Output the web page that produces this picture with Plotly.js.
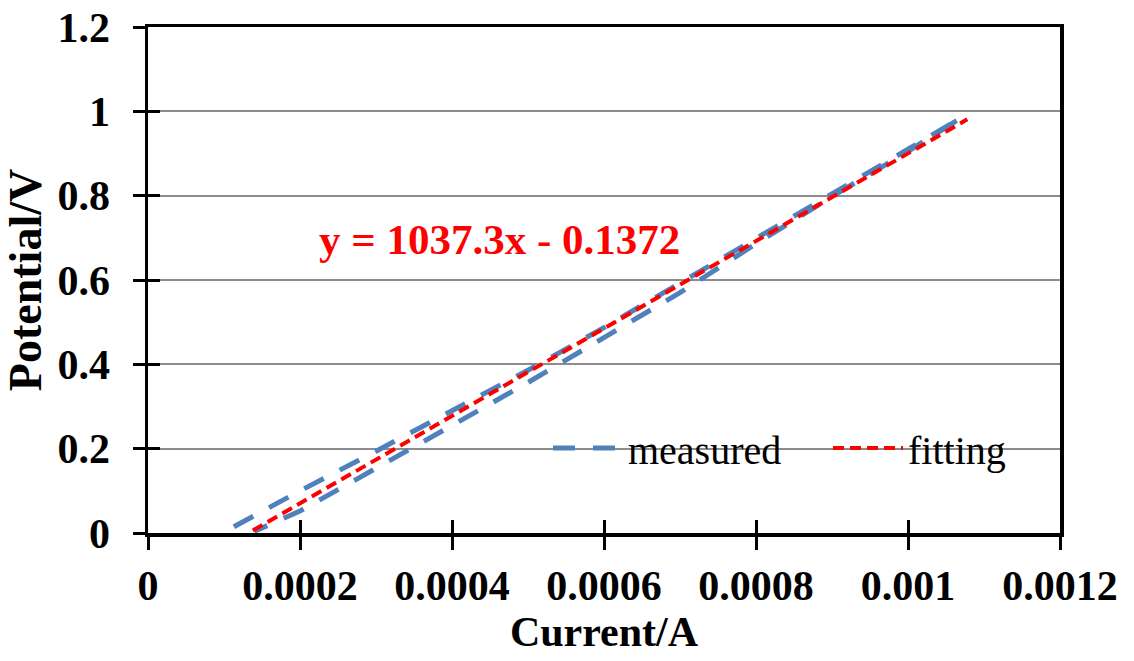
<!DOCTYPE html>
<html>
<head>
<meta charset="utf-8">
<script src="https://cdn.plot.ly/plotly-3.0.1.min.js"></script>
<style>html,body{margin:0;padding:0;background:#fff;}#chart{width:1134px;height:661px;}</style>
</head>
<body>
<div id="chart"></div>
<script>
// Measured loop: up along one branch, back down along the other
var measuredX = [0.000113, 0.0002, 0.0003, 0.0004, 0.0005, 0.0006, 0.0007, 0.0008, 0.0009, 0.001, 0.00107,
                 0.001, 0.0009, 0.0008, 0.0007, 0.0006, 0.0005, 0.0004, 0.0003, 0.0002, 0.00014];
var measuredY = [0.015, 0.100, 0.194, 0.290, 0.386, 0.487, 0.592, 0.698, 0.804, 0.910, 0.985,
                 0.905, 0.798, 0.686, 0.570, 0.462, 0.357, 0.255, 0.153, 0.052, 0.004];
var fitX = [0.000138, 0.001078];
var fitY = [0.006, 0.981];
var xTicks = [0, 0.0002, 0.0004, 0.0006, 0.0008, 0.001, 0.0012];
var xTickText = ['0', '0.0002', '0.0004', '0.0006', '0.0008', '0.001', '0.0012'];
var yTicks = [0, 0.2, 0.4, 0.6, 0.8, 1, 1.2];
var yTickText = ['0', '0.2', '0.4', '0.6', '0.8', '1', '1.2'];
var equationText = 'y = 1037.3x - 0.1372';

var serif = 'Liberation Serif, Times New Roman, serif';

var traces = [
  {x: measuredX, y: measuredY, type: 'scatter', mode: 'lines', name: 'measured', legend: 'legend',
   line: {color: '#4F81BD', width: 5, dash: '22px,18px'}},
  {x: fitX, y: fitY, type: 'scatter', mode: 'lines', name: 'fitting', legend: 'legend2',
   line: {color: '#FF0000', width: 4, dash: '11px,6px'}}
];

var legendFont = {family: serif, size: 40, color: '#000'};

var layout = {
  width: 1134, height: 661,
  margin: {l: 148, r: 74, t: 27, b: 128},
  paper_bgcolor: '#fff', plot_bgcolor: '#fff',
  font: {family: serif, color: '#000'},
  showlegend: true,
  legend: {orientation: 'h', x: 0.4386, y: 0.168, xanchor: 'left', yanchor: 'middle',
           bgcolor: 'rgba(0,0,0,0)', font: legendFont, itemwidth: 70},
  legend2: {orientation: 'h', x: 0.7456, y: 0.168, xanchor: 'left', yanchor: 'middle',
           bgcolor: 'rgba(0,0,0,0)', font: legendFont, itemwidth: 70},
  xaxis: {range: [0, 0.0012], tickvals: xTicks, ticktext: xTickText,
          showline: true, linecolor: '#000', linewidth: 3.5, mirror: true,
          ticks: 'outside', ticklen: 13, tickwidth: 3, tickcolor: '#000',
          showgrid: false, zeroline: false,
          tickfont: {family: serif, size: 42, weight: 'bold', color: '#000'},
          ticklabelstandoff: 0,
          title: {text: 'Current/A', font: {family: serif, size: 42, weight: 'bold', color: '#000'}, standoff: 8}},
  yaxis: {range: [0, 1.2], tickvals: yTicks, ticktext: yTickText,
          showline: true, linecolor: '#000', linewidth: 3.5, mirror: true,
          ticks: 'outside', ticklen: 12, tickwidth: 3, tickcolor: '#000',
          showgrid: true, gridcolor: '#8c8c8c', gridwidth: 2, zeroline: false,
          tickfont: {family: serif, size: 42, weight: 'bold', color: '#000'},
          ticklabelstandoff: 14,
          title: {text: 'Potential/V', font: {family: serif, size: 46, weight: 'bold', color: '#000'}, standoff: 6}},
  xaxis2: {range: [0, 0.0012], tickvals: xTicks, overlaying: 'x', anchor: 'y', side: 'bottom',
           ticks: 'inside', ticklen: 13, tickwidth: 3, tickcolor: '#000',
           showticklabels: false, showgrid: false, zeroline: false, showline: false},
  yaxis2: {range: [0, 1.2], tickvals: yTicks, overlaying: 'y', anchor: 'x', side: 'left',
           ticks: 'inside', ticklen: 12, tickwidth: 3, tickcolor: '#000',
           showticklabels: false, showgrid: false, zeroline: false, showline: false},
  annotations: [{x: 0.000462, y: 0.695, xref: 'x', yref: 'y', text: equationText, showarrow: false,
                 font: {family: serif, size: 43, weight: 'bold', color: '#FF0000'}}]
};

// invisible trace to activate the overlay tick axes
traces.push({x: [0], y: [0], xaxis: 'x2', yaxis: 'y2', mode: 'markers', marker: {opacity: 0},
             showlegend: false, hoverinfo: 'skip'});

Plotly.newPlot('chart', traces, layout, {displayModeBar: false, staticPlot: true});
</script>
</body>
</html>
